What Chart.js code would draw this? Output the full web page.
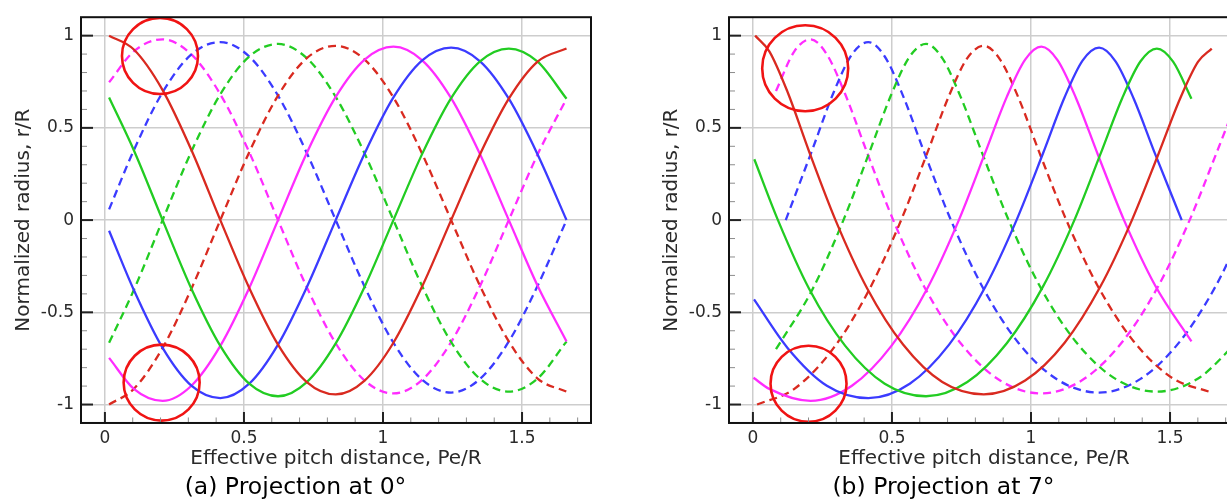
<!DOCTYPE html>
<html>
<head>
<meta charset="utf-8">
<script src="https://cdn.jsdelivr.net/npm/chart.js@4/dist/chart.umd.min.js"></script>
<style>
    html, body { margin: 0; padding: 0; background: #fff; overflow: hidden; }
    body { width: 1227px; height: 502px; position: relative; }
    .panel { position: absolute; top: 0; width: 600px; height: 502px; }
</style>
</head>
<body>
<div class="panel" style="left: 0px"><canvas id="chartA" width="600" height="502"></canvas></div>
<div class="panel" style="left: 648px"><canvas id="chartB" width="600" height="502"></canvas></div>
<script>
// axis ticks
const xTicks = [0, 0.5, 1, 1.5];
const yTicks = [-1, -0.5, 0, 0.5, 1];

// (a) projection at 0 deg: one shared x grid
const xA = [0.015, 0.104, 0.2075, 0.311, 0.415, 0.519, 0.6225, 0.726, 0.83, 0.934, 1.0375, 1.141, 1.245, 1.349, 1.4525, 1.556, 1.66];
const aRedSolid     = [1.0, 0.925, 0.705, 0.38, 0, -0.368, -0.675, -0.878, -0.945, -0.870, -0.665, -0.359, 0, 0.357, 0.658, 0.859, 0.93];
const aGreenSolid   = [0.665, 0.379, 0, -0.372, -0.682, -0.887, -0.955, -0.878, -0.668, -0.361, 0, 0.359, 0.661, 0.861, 0.93, 0.859, 0.658];
const aBlueSolid    = [-0.058, -0.379, -0.693, -0.898, -0.965, -0.887, -0.675, -0.364, 0, 0.361, 0.665, 0.866, 0.935, 0.861, 0.658, 0.356, 0];
const aMagentaSolid = [-0.747, -0.915, -0.98, -0.898, -0.682, -0.368, 0, 0.364, 0.668, 0.870, 0.94, 0.866, 0.661, 0.357, 0, -0.356, -0.658];
const aRedDash      = [-1.0, -0.915, -0.693, -0.372, 0, 0.368, 0.675, 0.878, 0.945, 0.870, 0.665, 0.359, 0, -0.357, -0.658, -0.859, -0.93];
const aGreenDash    = [-0.665, -0.379, 0, 0.372, 0.682, 0.887, 0.955, 0.878, 0.668, 0.361, 0, -0.359, -0.661, -0.861, -0.93, -0.859, -0.658];
const aBlueDash     = [0.058, 0.379, 0.693, 0.898, 0.965, 0.887, 0.675, 0.364, 0, -0.361, -0.665, -0.866, -0.935, -0.861, -0.658, -0.356, 0];
const aMagentaDash  = [0.747, 0.915, 0.98, 0.898, 0.682, 0.368, 0, -0.364, -0.668, -0.870, -0.94, -0.866, -0.661, -0.357, 0, 0.356, 0.658];

// (b) projection at 7 deg: every curve has its own x positions
const bRedSolidX     = [0.008, 0.059, 0.125, 0.202, 0.297, 0.410, 0.540, 0.681, 0.83, 0.979, 1.121, 1.250, 1.363, 1.458, 1.536, 1.601, 1.65];
const bRedSolidY     = [1.0, 0.915, 0.693, 0.372, 0, -0.368, -0.675, -0.878, -0.945, -0.870, -0.665, -0.359, 0, 0.357, 0.658, 0.859, 0.93];
const bGreenSolidX   = [0.005, 0.090, 0.202, 0.332, 0.474, 0.6225, 0.771, 0.913, 1.043, 1.156, 1.250, 1.328, 1.394, 1.4525, 1.511, 1.577];
const bGreenSolidY   = [0.33, 0, -0.372, -0.682, -0.887, -0.955, -0.878, -0.668, -0.361, 0, 0.359, 0.661, 0.861, 0.93, 0.859, 0.658];
const bBlueSolidX    = [0.004, 0.1245, 0.266, 0.415, 0.564, 0.7055, 0.835, 0.948, 1.043, 1.1205, 1.186, 1.245, 1.304, 1.3695, 1.447, 1.542];
const bBlueSolidY    = [-0.43, -0.693, -0.898, -0.965, -0.887, -0.675, -0.364, 0, 0.361, 0.665, 0.866, 0.935, 0.861, 0.658, 0.356, 0];
const bMagentaSolidX = [0.002, 0.059, 0.2075, 0.356, 0.498, 0.628, 0.7405, 0.835, 0.913, 0.979, 1.0375, 1.096, 1.162, 1.240, 1.3345, 1.447, 1.577];
const bMagentaSolidY = [-0.855, -0.915, -0.98, -0.898, -0.682, -0.368, 0, 0.364, 0.668, 0.870, 0.94, 0.866, 0.661, 0.357, 0, -0.356, -0.658];
const bRedDashX      = [0.015, 0.149, 0.2905, 0.420, 0.533, 0.628, 0.7055, 0.771, 0.83, 0.889, 0.9545, 1.032, 1.127, 1.240, 1.3695, 1.511, 1.64];
const bRedDashY      = [-1.0, -0.915, -0.693, -0.372, 0, 0.368, 0.675, 0.878, 0.945, 0.870, 0.665, 0.359, 0, -0.357, -0.658, -0.859, -0.93];
const bGreenDashX    = [0.083, 0.213, 0.3255, 0.420, 0.498, 0.564, 0.6225, 0.681, 0.747, 0.825, 0.9195, 1.032, 1.162, 1.304, 1.4525, 1.601, 1.743];
const bGreenDashY    = [-0.70, -0.379, 0, 0.372, 0.682, 0.887, 0.955, 0.878, 0.668, 0.361, 0, -0.359, -0.661, -0.861, -0.93, -0.859, -0.658];
const bBlueDashX     = [0.118, 0.213, 0.2905, 0.356, 0.415, 0.474, 0.5395, 0.617, 0.712, 0.825, 0.9545, 1.096, 1.245, 1.394, 1.5355, 1.665, 1.778];
const bBlueDashY     = [0, 0.379, 0.693, 0.898, 0.965, 0.887, 0.675, 0.364, 0, -0.361, -0.665, -0.866, -0.935, -0.861, -0.658, -0.356, 0];
const bMagentaDashX  = [0.083, 0.149, 0.2075, 0.266, 0.332, 0.410, 0.5045, 0.617, 0.747, 0.889, 1.0375, 1.186, 1.328, 1.458, 1.5705, 1.665, 1.743];
const bMagentaDashY  = [0.70, 0.915, 0.98, 0.898, 0.682, 0.368, 0, -0.364, -0.668, -0.870, -0.94, -0.866, -0.661, -0.357, 0, 0.356, 0.658];

// red highlight circles (data coordinates)
const circlesA = [{x: 0.198, y: 0.89}, {x: 0.204, y: -0.881}];
const circlesB = [{x: 0.188, y: 0.823}, {x: 0.2, y: -0.887}];

const RED = '#d92a20';
const GREEN = '#22cc22';
const BLUE = '#3b3bff';
const MAGENTA = '#ff2cff';
const FONT = 'DejaVu Sans';

const tickMarks = {
    id: 'tickMarks',
    afterDatasetsDraw(chart) {
        const {ctx, chartArea: area, scales: {x, y}} = chart;
        ctx.save();
        for (let k = -10; k <= 10; k++) {
            const py = y.getPixelForValue(k / 10);
            const major = k % 5 === 0;
            ctx.strokeStyle = major ? '#222' : '#8c8c8c';
            ctx.lineWidth = major ? 2 : 1;
            ctx.beginPath();
            ctx.moveTo(area.left, py);
            ctx.lineTo(area.left + (major ? 12 : 6), py);
            ctx.stroke();
        }
        for (let k = 0; k <= 17; k++) {
            const px = x.getPixelForValue(k / 10);
            if (px > area.right) continue;
            const major = k % 5 === 0;
            ctx.strokeStyle = major ? '#222' : '#8c8c8c';
            ctx.lineWidth = major ? 2 : 1;
            ctx.beginPath();
            ctx.moveTo(px, area.bottom);
            ctx.lineTo(px, area.bottom - (major ? 11 : 5.5));
            ctx.stroke();
        }
        ctx.strokeStyle = '#111';
        ctx.lineWidth = 2;
        ctx.strokeRect(area.left, area.top, area.right - area.left, area.bottom - area.top);
        ctx.restore();
    }
};

function curve(xs, ys, color, dashed) {
    return {
        data: xs.map((x, i) => ({x, y: ys[i]})),
        borderColor: color,
        borderWidth: 2.3,
        borderDash: dashed ? [8, 5] : [],
        pointRadius: 0,
        cubicInterpolationMode: 'monotone',
        fill: false,
        order: 1
    };
}

function circleSet(points, radii) {
    return {
        data: points,
        showLine: false,
        pointRadius: radii,
        pointBorderWidth: 2.6,
        pointBorderColor: '#f01414',
        pointBackgroundColor: 'rgba(0,0,0,0)',
        order: 0
    };
}

function makeChart(id, datasets, caption) {
    new Chart(document.getElementById(id), {
        type: 'line',
        data: {datasets},
        plugins: [tickMarks],
        options: {
            responsive: false,
            animation: false,
            events: [],
            layout: {autoPadding: false, padding: {left: 0, right: 9, top: 14, bottom: 0}},
            plugins: {
                legend: {display: false},
                tooltip: {enabled: false},
                title: {
                    display: true,
                    text: caption,
                    position: 'bottom',
                    color: '#000',
                    font: {family: FONT, size: 23.5, weight: 'normal', lineHeight: 1.15},
                    padding: {top: 0, bottom: 0.5}
                }
            },
            scales: {
                x: {
                    type: 'linear',
                    min: -0.086,
                    max: 1.748,
                    afterBuildTicks: scale => { scale.ticks = xTicks.map(value => ({value})); },
                    afterFit: scale => { scale.height = 51.5; },
                    grid: {color: '#cdcdcd', lineWidth: 1.5, drawTicks: false},
                    border: {display: false},
                    ticks: {
                        padding: 5,
                        color: '#2a2a2a',
                        font: {family: FONT, size: 17},
                        callback: value => String(value)
                    },
                    title: {
                        display: true,
                        text: 'Effective pitch distance, Pe/R',
                        color: '#2a2a2a',
                        font: {family: FONT, size: 20},
                        padding: {top: 0, bottom: 3.5}
                    }
                },
                y: {
                    min: -1.1,
                    max: 1.1,
                    afterBuildTicks: scale => { scale.ticks = yTicks.map(value => ({value})); },
                    afterFit: scale => { scale.width = 81; },
                    grid: {color: '#cdcdcd', lineWidth: 1.5, drawTicks: false},
                    border: {display: false},
                    ticks: {
                        padding: 7,
                        color: '#2a2a2a',
                        font: {family: FONT, size: 17},
                        callback: value => String(value)
                    },
                    title: {
                        display: true,
                        text: 'Normalized radius, r/R',
                        color: '#2a2a2a',
                        font: {family: FONT, size: 20},
                        padding: {top: 12, bottom: 0}
                    }
                }
            }
        }
    });
}

makeChart('chartA', [
    circleSet(circlesA, [38, 38]),
    curve(xA, aRedSolid, RED, false),
    curve(xA, aGreenSolid, GREEN, false),
    curve(xA, aBlueSolid, BLUE, false),
    curve(xA, aMagentaSolid, MAGENTA, false),
    curve(xA, aRedDash, RED, true),
    curve(xA, aGreenDash, GREEN, true),
    curve(xA, aBlueDash, BLUE, true),
    curve(xA, aMagentaDash, MAGENTA, true)
], '(a) Projection at 0°');

makeChart('chartB', [
    circleSet(circlesB, [43, 38]),
    curve(bRedSolidX, bRedSolidY, RED, false),
    curve(bGreenSolidX, bGreenSolidY, GREEN, false),
    curve(bBlueSolidX, bBlueSolidY, BLUE, false),
    curve(bMagentaSolidX, bMagentaSolidY, MAGENTA, false),
    curve(bRedDashX, bRedDashY, RED, true),
    curve(bGreenDashX, bGreenDashY, GREEN, true),
    curve(bBlueDashX, bBlueDashY, BLUE, true),
    curve(bMagentaDashX, bMagentaDashY, MAGENTA, true)
], '(b) Projection at 7°');
</script>
</body>
</html>
